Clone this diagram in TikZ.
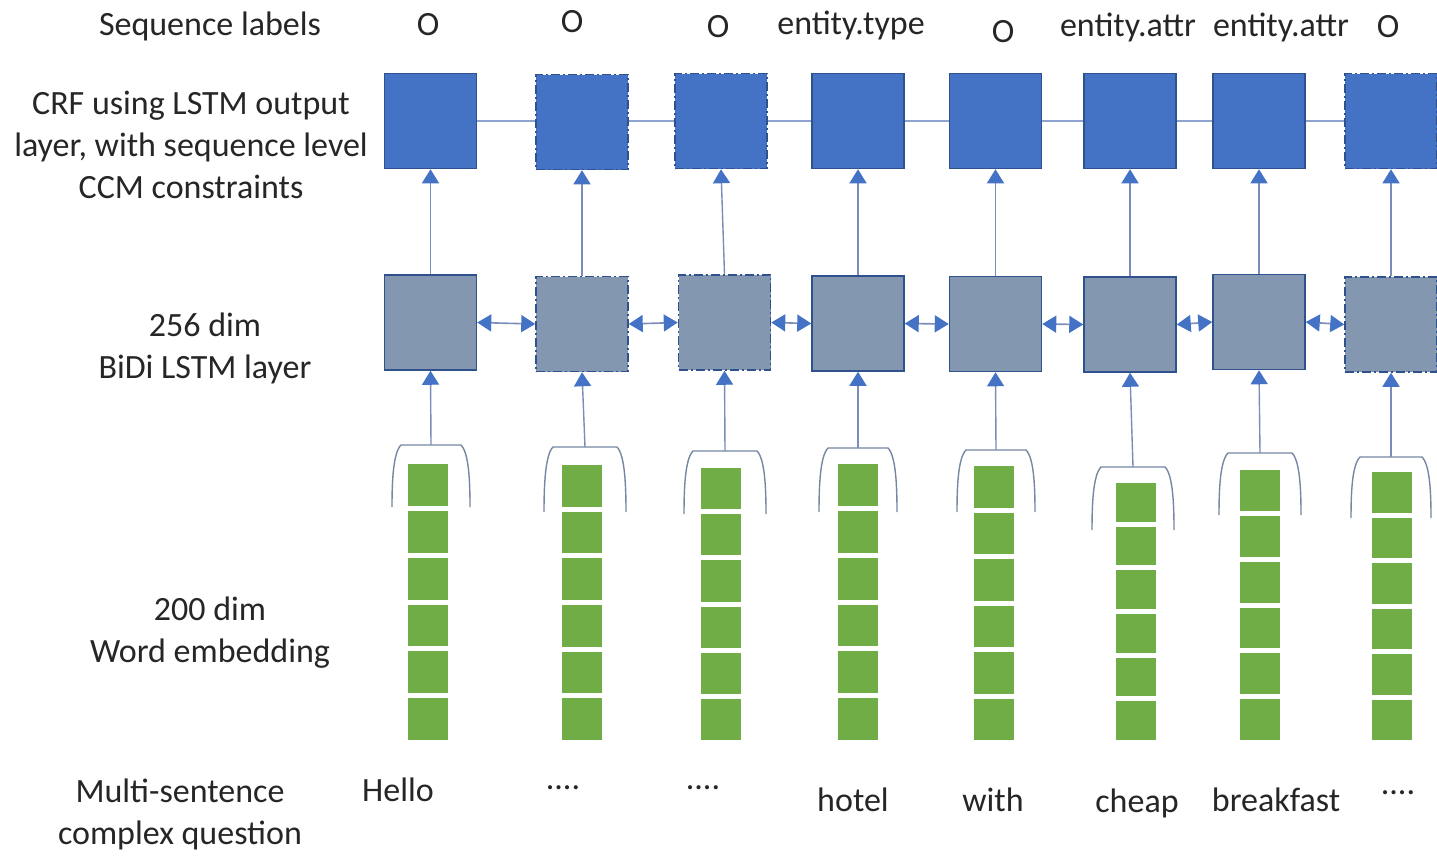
\documentclass[tikz,border=0pt]{standalone}
\usepackage{fontspec}
\setmainfont{Carlito}
\usetikzlibrary{arrows.meta}
\definecolor{crfblue}{HTML}{4472C4}
\definecolor{crfedge}{HTML}{2F528F}
\definecolor{lstmfill}{HTML}{8497B0}
\definecolor{embgreen}{HTML}{70AD47}
\definecolor{linkc}{HTML}{4472C4}
\definecolor{shaftc}{HTML}{7A8DBA}
\definecolor{chainc}{HTML}{8FA3D0}
\definecolor{brk}{HTML}{7787A3}
\definecolor{txt}{HTML}{262626}
\begin{document}
\begin{tikzpicture}[x=1pt,y=-1pt,
  crfbox/.style={rectangle, fill=crfblue, draw=crfedge, line width=1.5pt, minimum width=92pt, minimum height=95pt, inner sep=0pt},
  lstmbox/.style={rectangle, fill=lstmfill, draw=crfedge, line width=1.5pt, minimum width=92pt, minimum height=95pt, inner sep=0pt},
  ddedge/.style={dash pattern=on 9pt off 3pt on 2pt off 3pt},
  lbl/.style={font=\fontsize{34}{42}\selectfont, text=txt, align=center, inner sep=0pt},
  uparrow/.style={draw=shaftc, line width=1.4pt, -{Triangle[width=17pt,length=14pt,color=linkc]}},
  biarrow/.style={draw=shaftc, line width=1.6pt, {Triangle[width=17pt,length=14pt,color=linkc]}-{Triangle[width=17pt,length=14pt,color=linkc]}},
  chain/.style={draw=chainc, line width=1.2pt},
  bracket/.style={draw=brk, line width=1.4pt},
  cell/.style={fill=embgreen, draw=none}
]
\clip (0,0) rectangle (1437,855);
\fill[white] (0,0) rectangle (1437,855);

% CRF chain line (behind boxes)
\draw[chain] (430,121) -- (1437,121);

% CRF and LSTM boxes
\foreach \i/\cx/\cy/\lx/\ly/\st in {1/430.5/121/430.5/322.5/solid,2/582/122/582/324/ddedge,3/721/121/724.5/322.5/ddedge,4/858/121/858/323.5/solid,5/995.5/121/995.5/324/solid,6/1130/121/1130/324.5/solid,7/1259/121/1259/322/solid,8/1391/121/1391/324.5/ddedge}{
  \node[crfbox,\st] (crf\i) at (\cx,\cy) {};
  \node[lstmbox,\st] (lstm\i) at (\lx,\ly) {};
  \draw[uparrow] (lstm\i.north) -- (crf\i.south);
}

% BiDi arrows
\foreach \a/\b in {1/2,2/3,3/4,4/5,5/6,6/7,7/8}{
  \draw[biarrow] (lstm\a.east) -- (lstm\b.west);
}

% Embeddings: brackets + green cell columns
\foreach \i/\bx/\bt/\bh/\bb/\gx/\gt in {1/431/445/38/507/428/464,2/585/447/40/512/582/465,3/725/451/40/514/721/468,4/858/448/38/512/858/464,5/996/450/38/512/994/466,6/1133/467/40/530/1136/483,7/1260/453/40/515/1260/470,8/1391/457/39/518/1392/472}{
  \coordinate (emb\i) at (\bx,\bt);
  \draw[bracket] (\bx-\bh-1,\bb) .. controls (\bx-\bh-1,\bb-25) and (\bx-\bh,\bt+8) .. (\bx-\bh+8,\bt) -- (\bx+\bh-8,\bt) .. controls (\bx+\bh,\bt+8) and (\bx+\bh+1,\bb-25) .. (\bx+\bh+1,\bb);
  \draw[uparrow] (emb\i) -- (lstm\i.south);
  \pgfmathsetmacro{\h}{(740-\gt+5)/6}
  \foreach \k in {0,...,5}{
    \fill[cell] (\gx-20,{\gt+\k*\h}) rectangle (\gx+20,{\gt+(\k+1)*\h-5});
  }
}

% Left labels
\node[lbl] (lseq) at (210,26) {Sequence labels};
\node[lbl] (lcrf) at (191,145) {CRF using LSTM output\\layer, with sequence level\\CCM constraints};
\node[lbl] (llstm) at (205,348) {256 dim\\BiDi LSTM layer};
\node[lbl] (lemb) at (210,633) {200 dim\\Word embedding};
\node[lbl] (lq) at (180,814) {Multi-sentence\\complex question};

% Top sequence labels
\node[lbl] (t1) at (428,25) {O};
\node[lbl] (t2) at (572,22) {O};
\node[lbl] (t3) at (718,27) {O};
\node[lbl] (t4) at (851,25) {entity.type};
\node[lbl] (t5) at (1003,32) {O};
\node[lbl] (t6) at (1128,27) {entity.attr};
\node[lbl] (t7) at (1281,27) {entity.attr};
\node[lbl] (t8) at (1388,27) {O};

% Bottom words
\node[lbl] (w1) at (398,790) {Hello};
\node[lbl] (w2) at (563,788) {....};
\node[lbl] (w3) at (703,788) {....};
\node[lbl] (w4) at (853,800) {hotel};
\node[lbl] (w5) at (993,800) {with};
\node[lbl] (w6) at (1137,803) {cheap};
\node[lbl] (w7) at (1276,800) {breakfast};
\node[lbl] (w8) at (1398,793) {....};
\end{tikzpicture}
\end{document}
